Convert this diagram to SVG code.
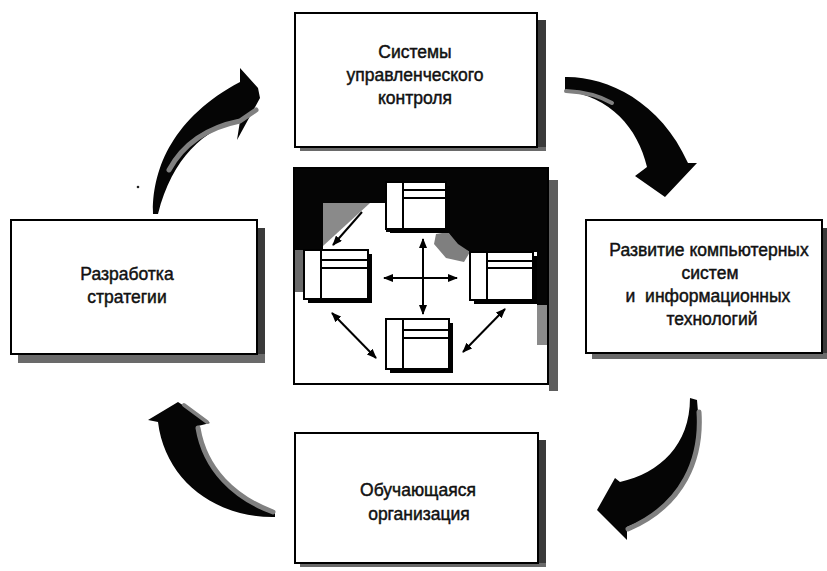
<svg xmlns="http://www.w3.org/2000/svg" width="827" height="571" viewBox="0 0 827 571">
  <style>
    .box { fill: #fff; stroke: #000; stroke-width: 2; }
    .shadow-side { fill: #3a3a3a; }
    .shadow-base { fill: #6a6a6a; }
    .label { font-family: "Liberation Sans", Arial, sans-serif; font-size: 17.5px; fill: #111; text-anchor: middle; stroke: #111; stroke-width: 0.45; }
    .big-arrow { fill: #050505; }
    .grain { fill: none; stroke: #808080; stroke-linecap: round; }
    .win { fill: #fff; stroke: #000; stroke-width: 2; }
    .win-shadow { fill: #000; }
    .win-line { stroke: #000; stroke-width: 2; }
    .link { stroke: #000; stroke-width: 2; fill: none; }
  </style>
  <defs>
    <marker id="head" viewBox="0 0 10 8" refX="9" refY="4" markerWidth="10" markerHeight="8" markerUnits="userSpaceOnUse" orient="auto-start-reverse">
      <path d="M0,0 L10,4 L0,8 Z" fill="#000"/>
    </marker>
  </defs>

  <rect width="827" height="571" fill="#fff"/>

  <!-- curved cycle arrows -->
  <g id="cycle-arrows">
    <g id="arrow-strategy-to-control">
      <path class="big-arrow" d="M153,214 C152,170 172,118 240,82 L240,68 L258,88 L260,98 L237,140 L240,121 C205,128 172,158 158,214 Z"/>
      <path class="grain" stroke-width="5" d="M256,110 L240,121 C205,128 182,146 169,170"/>
    </g>
    <g id="arrow-control-to-it">
      <path class="big-arrow" d="M565,77 C605,76 660,100 688,163 L697,163 L665,197 L635,176 L647,167 C638,128 610,96 565,91 Z"/>
      <path class="grain" stroke-width="4" d="M566,91 C586,92 600,96 612,103"/>
    </g>
    <g id="arrow-it-to-learning">
      <path class="big-arrow" d="M697,400 C703,455 685,505 627,527 L627,540 L597,510 L615,478 L620,482 C660,473 690,445 690,398 Z"/>
      <path class="grain" stroke-width="5" d="M699,412 C702,458 684,505 628,529"/>
    </g>
    <g id="arrow-learning-to-strategy">
      <path class="big-arrow" d="M275,517 C215,518 165,480 158,422 L148,420 L178,402 L210,423 L198,426 C205,470 235,498 275,512 Z"/>
      <path class="grain" stroke-width="5" d="M198,428 C205,470 235,498 273,512"/>
      <path class="grain" stroke-width="4" d="M184,405 L207,422"/>
    </g>
  </g>

  <circle cx="138" cy="187" r="1.3" fill="#222"/>

  <!-- text boxes -->
  <g id="control-systems">
    <rect class="shadow-side" x="537" y="20" width="9" height="131"/>
    <rect class="shadow-base" x="300" y="147" width="246" height="4"/>
    <rect class="box" x="295" y="13" width="242" height="134"/>
    <text class="label" x="415" y="58">Системы</text>
    <text class="label" x="415" y="81">управленческого</text>
    <text class="label" x="415" y="104">контроля</text>
  </g>

  <g id="strategy">
    <rect class="shadow-side" x="257" y="228" width="8" height="135"/>
    <rect class="shadow-base" x="18" y="354" width="247" height="9"/>
    <rect class="box" x="11" y="220" width="246" height="134"/>
    <text class="label" x="127" y="280">Разработка</text>
    <text class="label" x="127" y="303">стратегии</text>
  </g>

  <g id="it-development">
    <rect class="shadow-side" x="822" y="228" width="5" height="131"/>
    <rect class="shadow-base" x="592" y="353" width="235" height="6"/>
    <rect class="box" x="586" y="220" width="236" height="133"/>
    <text class="label" x="709" y="256">Развитие компьютерных</text>
    <text class="label" x="710" y="279">систем</text>
    <text class="label" x="708" y="302" xml:space="preserve">и  информационных</text>
    <text class="label" x="712" y="325">технологий</text>
  </g>

  <g id="learning-organization">
    <rect class="shadow-side" x="538" y="440" width="8" height="127"/>
    <rect class="shadow-base" x="300" y="563" width="246" height="4"/>
    <rect class="box" x="295" y="433" width="243" height="130"/>
    <text class="label" x="418" y="496">Обучающаяся</text>
    <text class="label" x="419" y="520">организация</text>
  </g>

  <!-- central network panel -->
  <g id="network-panel">
    <rect x="549" y="180" width="9" height="211" fill="#5e5e5e"/>
    <rect x="294" y="168" width="254" height="216" fill="#fff"/>
    <path fill="#050505" d="M294,168 L548,168 L548,305 L537,305 L537,252 L470,252 L456,246 L448,232 L386,232 L386,203 L323,203 L323,250 L294,250 Z"/>
    <path fill="#8a8a8a" d="M323,203 L370,203 L323,246 Z"/>
    <path fill="#7f7f7f" d="M448,232 L458,244 L470,252 L464,262 L446,258 L434,244 L436,234 Z"/>
    <rect x="294" y="250" width="9" height="42" fill="#6a6a6a"/>
    <rect x="537" y="305" width="11" height="40" fill="#8a8a8a"/>
    <rect x="294" y="168" width="254" height="216" fill="none" stroke="#000" stroke-width="2"/>

    <g id="window-top">
      <rect class="win-shadow" x="390" y="186" width="60" height="47"/>
      <rect class="win" x="386" y="182" width="60" height="47"/>
      <line class="win-line" x1="403" y1="182" x2="403" y2="229"/>
      <line class="win-line" x1="403" y1="190" x2="446" y2="190"/>
      <line class="win-line" x1="403" y1="198" x2="446" y2="198"/>
    </g>
    <g id="window-left">
      <rect class="win-shadow" x="308" y="254" width="64" height="49"/>
      <rect class="win" x="304" y="250" width="64" height="49"/>
      <line class="win-line" x1="321" y1="250" x2="321" y2="299"/>
      <line class="win-line" x1="321" y1="260" x2="368" y2="260"/>
      <line class="win-line" x1="321" y1="268" x2="368" y2="268"/>
    </g>
    <g id="window-right">
      <rect class="win-shadow" x="474" y="256" width="63" height="48"/>
      <rect class="win" x="470" y="252" width="63" height="48"/>
      <line class="win-line" x1="487" y1="252" x2="487" y2="300"/>
      <line class="win-line" x1="487" y1="261" x2="533" y2="261"/>
      <line class="win-line" x1="487" y1="268" x2="533" y2="268"/>
    </g>
    <g id="window-bottom">
      <rect class="win-shadow" x="390" y="323" width="63" height="50"/>
      <rect class="win" x="386" y="319" width="63" height="50"/>
      <line class="win-line" x1="403" y1="319" x2="403" y2="369"/>
      <line class="win-line" x1="403" y1="330" x2="449" y2="330"/>
      <line class="win-line" x1="403" y1="338" x2="449" y2="338"/>
    </g>

    <g id="panel-links">
      <line class="link" x1="423" y1="239" x2="423" y2="314" marker-start="url(#head)" marker-end="url(#head)"/>
      <line class="link" x1="384" y1="278" x2="457" y2="278" marker-start="url(#head)" marker-end="url(#head)"/>
      <line class="link" x1="362" y1="212" x2="333" y2="245" marker-end="url(#head)"/>
      <line class="link" x1="332" y1="313" x2="376" y2="358" marker-start="url(#head)" marker-end="url(#head)"/>
      <line class="link" x1="505" y1="309" x2="463" y2="352" marker-start="url(#head)" marker-end="url(#head)"/>
    </g>
  </g>
</svg>
